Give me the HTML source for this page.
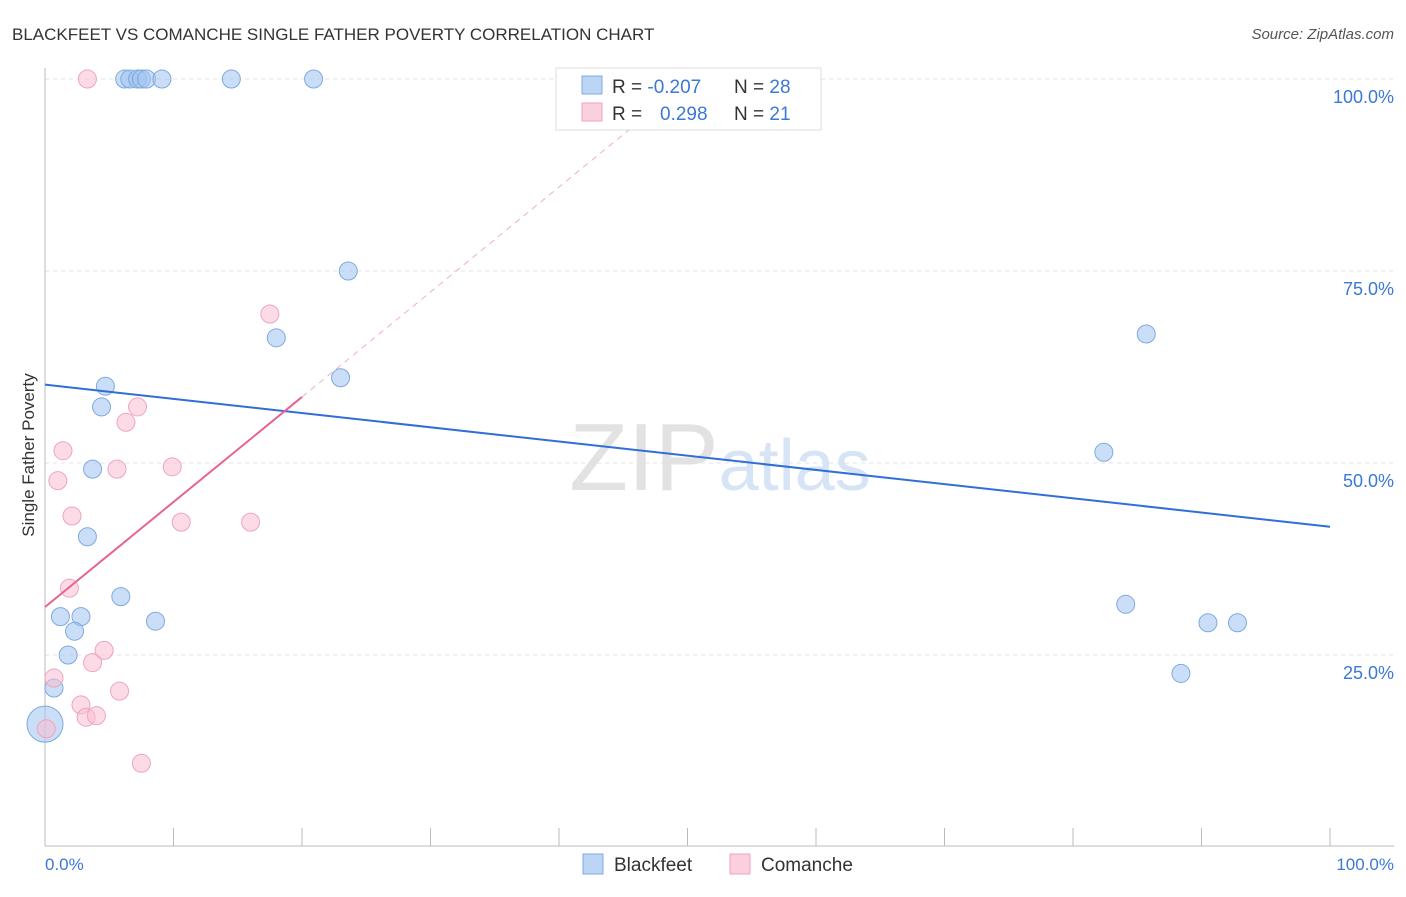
<!DOCTYPE html>
<html><head><meta charset="utf-8"><style>
body{margin:0;background:#fff;font-family:"Liberation Sans",sans-serif;}
svg text{font-family:"Liberation Sans",sans-serif;}
</style></head><body>
<svg width="1406" height="892" xmlns="http://www.w3.org/2000/svg">
<text x="12" y="40" font-size="17" fill="#333">BLACKFEET VS COMANCHE SINGLE FATHER POVERTY CORRELATION CHART</text>
<text x="1394" y="39" font-size="15" fill="#555" text-anchor="end" font-style="italic">Source: ZipAtlas.com</text>
<text x="720" y="490" font-size="96" fill="#e2e2e2" text-anchor="middle" font-family="Liberation Serif">ZIP<tspan fill="#d6e4f5" font-family="Liberation Sans" font-size="72">atlas</tspan></text>
<g id="grid"></g>
<g id="axes"></g>
<g id="marks"></g>
<text x="34" y="455" font-size="17" fill="#333" text-anchor="middle" transform="rotate(-90 34 455)">Single Father Poverty</text>
<text x="45" y="870" font-size="17" fill="#3b78d8">0.0%</text>
<text x="1394" y="870" font-size="17" fill="#3b78d8" text-anchor="end">100.0%</text>
<g>
<rect x="556" y="68" width="265" height="62" fill="#fff" stroke="#ddd"/>
<rect x="582" y="76" width="20" height="18" fill="#bcd5f5" stroke="#7fa9e0"/>
<rect x="582" y="103" width="20" height="18" fill="#fbcfdc" stroke="#eea5bc"/>
<text x="612" y="93" font-size="19" fill="#333">R = <tspan fill="#3b78d8">-0.207</tspan><tspan x="734">N = </tspan><tspan fill="#3b78d8">28</tspan></text>
<text x="612" y="120" font-size="19" fill="#333">R = <tspan x="660" fill="#3b78d8">0.298</tspan><tspan x="734">N = </tspan><tspan fill="#3b78d8">21</tspan></text>
</g>
<g>
<rect x="583" y="854" width="20" height="20" fill="#bcd5f5" stroke="#7fa9e0"/>
<text x="614" y="871" font-size="19" fill="#333">Blackfeet</text>
<rect x="730" y="854" width="20" height="20" fill="#fbcfdc" stroke="#eea5bc"/>
<text x="761" y="871" font-size="19" fill="#333">Comanche</text>
</g>
</svg>
<script>
const yTicks=[25,50,75,100];
const yTickLabels=["25.0%","50.0%","75.0%","100.0%"];
const blackX=[6.2,6.6,7.2,7.5,7.9,9.1,14.5,20.9,23.6,18.0,23.0,4.7,4.4,3.7,3.3,5.9,1.2,2.8,8.6,2.3,1.8,0.7,0,85.7,82.4,84.1,90.5,92.8,88.4];
const blackY=[100,100,100,100,100,100,100,100,75,66.3,61.1,60.0,57.3,49.2,40.4,32.6,30.0,30.0,29.4,28.1,25.0,20.7,16.0,66.8,51.4,31.6,29.2,29.2,22.6];
const blackR=[9,9,9,9,9,9,9,9,9,9,9,9,9,9,9,9,9,9,9,9,9,9,18,9,9,9,9,9,9];
const comX=[3.3,17.5,7.2,6.3,1.4,5.6,9.9,1.0,2.1,10.6,16.0,1.9,4.6,3.7,0.7,5.8,2.8,3.2,4.0,7.5,0.1];
const comY=[100,69.4,57.3,55.3,51.6,49.2,49.5,47.7,43.1,42.3,42.3,33.7,25.6,24.0,22.0,20.3,18.5,16.9,17.1,10.9,15.4];
const blueTrend=[[0,60.2],[100,41.7]];
const pinkTrend=[[0,31.25],[20,58.6]];
const pinkDash=[[20,58.6],[47,95.5]];
const X=v=>45+v*12.85, Y=v=>847-v*7.68;
const NS="http://www.w3.org/2000/svg";
function mk(t,a,p){const e=document.createElementNS(NS,t);for(const k in a)e.setAttribute(k,a[k]);document.getElementById(p).appendChild(e);return e;}
yTicks.forEach((t,i)=>{
 const l=mk('line',{x1:45,x2:1394,y1:Y(t),y2:Y(t),stroke:'#e3e3e3','stroke-dasharray':'4,4'},'grid');
 
 
 const tx=mk('text',{x:1394,y:Y(t)+24,'font-size':18,fill:'#3b78d8','text-anchor':'end'},'grid');
 tx.textContent=yTickLabels[i];
 
 
});
let a=mk('line',{x1:45,x2:45,y1:68,y2:846,stroke:'#bbb'},'axes');

a=mk('line',{x1:45,x2:1394,y1:846,y2:846,stroke:'#bbb'},'axes');

for(let i=0;i<=10;i++){const t=mk('line',{x1:X(i*10),x2:X(i*10),y1:828,y2:846,stroke:'#bbb'},'axes');
 
 }
blackX.forEach((v,i)=>{const c=mk('circle',{cx:X(v),cy:Y(blackY[i]),r:blackR[i],fill:'rgba(160,195,240,0.55)',stroke:'#7fa9e0','stroke-width':1},'marks');
 
 });
comX.forEach((v,i)=>{const c=mk('circle',{cx:X(v),cy:Y(comY[i]),r:9,fill:'rgba(250,190,210,0.55)',stroke:'#eea5bc','stroke-width':1},'marks');
 
 });
let tl=mk('line',{x1:X(blueTrend[0][0]),y1:Y(blueTrend[0][1]),x2:X(blueTrend[1][0]),y2:Y(blueTrend[1][1]),stroke:'#2f6fd6','stroke-width':2},'marks');

tl=mk('line',{x1:X(pinkTrend[0][0]),y1:Y(pinkTrend[0][1]),x2:X(pinkTrend[1][0]),y2:Y(pinkTrend[1][1]),stroke:'#e8638f','stroke-width':2},'marks');

tl=mk('line',{x1:X(pinkDash[0][0]),y1:Y(pinkDash[0][1]),x2:X(pinkDash[1][0]),y2:Y(pinkDash[1][1]),stroke:'#eeb0c4','stroke-width':1,'stroke-dasharray':'6,5'},'marks');

</script>
</body></html>
